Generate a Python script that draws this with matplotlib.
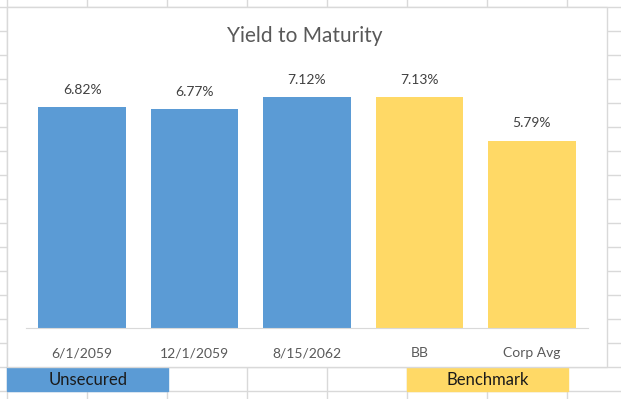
import matplotlib
matplotlib.use('Agg')
import matplotlib.pyplot as plt
from matplotlib.lines import Line2D
from matplotlib.patches import Rectangle

#Data#
categories=['6/1/2059','12/1/2059','8/15/2062','BB','Corp Avg']
ytm=[6.82,6.77,7.12,7.13,5.79]
groups=['Unsecured','Unsecured','Unsecured','Benchmark','Benchmark']
#/Data#

blue='#5B9BD5';gold='#FFD966';grid='#D9D9D9'
colors=[blue if g=='Unsecured' else gold for g in groups]

W,H=621,399
plt.rcParams['font.family']=['Lato','DejaVu Sans']
fig=plt.figure(figsize=(W/100,H/100),dpi=100)
fig.patch.set_facecolor('white')

def fx(x):return x/W
def fy(y):return 1-y/H

#spreadsheet cells behind the chart
for y in range(7,H,24):
  fig.add_artist(Line2D([0,1],[fy(y),fy(y)],color=grid,lw=1,zorder=0))
for x in range(7,W,80):
  fig.add_artist(Line2D([fx(x),fx(x)],[0,1],color=grid,lw=1,zorder=0))

#coloured cells under the chart
fig.add_artist(Rectangle((fx(7),fy(391)),fx(161),24/H,color=blue,zorder=1))
fig.add_artist(Rectangle((fx(407),fy(391)),fx(161),24/H,color=gold,zorder=1))
fig.text(fx(88),fy(380),'Unsecured',ha='center',va='center',fontsize=12,color='#1a1a1a',zorder=3)
fig.text(fx(488),fy(380),'Benchmark',ha='center',va='center',fontsize=12,color='#1a1a1a',zorder=3)

#chart area
fig.add_artist(Rectangle((fx(7),fy(367)),fx(600),360/H,facecolor='white',edgecolor=grid,lw=1,zorder=1))

ax=fig.add_axes([fx(26),fy(328),fx(562),(328-69)/H],zorder=2)
ax.patch.set_alpha(0)
x=range(len(categories))
bars=ax.bar(x,ytm,width=0.78,color=colors)
ax.set_xlim(-0.5,len(categories)-0.5)
ax.set_ylim(0,8)
for b,v in zip(bars,ytm):
  ax.annotate('%.2f%%'%v,(b.get_x()+b.get_width()/2,v),xytext=(0,8),textcoords='offset points',
              ha='center',va='bottom',fontsize=10,color='#404040')
ax.set_xticks(list(x))
ax.set_xticklabels(categories,fontsize=10,color='#595959')
ax.tick_params(axis='x',length=0,pad=14)
ax.set_yticks([])
for s in ['top','right','left']:ax.spines[s].set_visible(False)
ax.spines['bottom'].set_color('#D9D9D9')

fig.text(fx(305),fy(36),'Yield to Maturity',ha='center',va='center',fontsize=15,color='#595959',zorder=3)

fig.savefig('out.png',dpi=100)
